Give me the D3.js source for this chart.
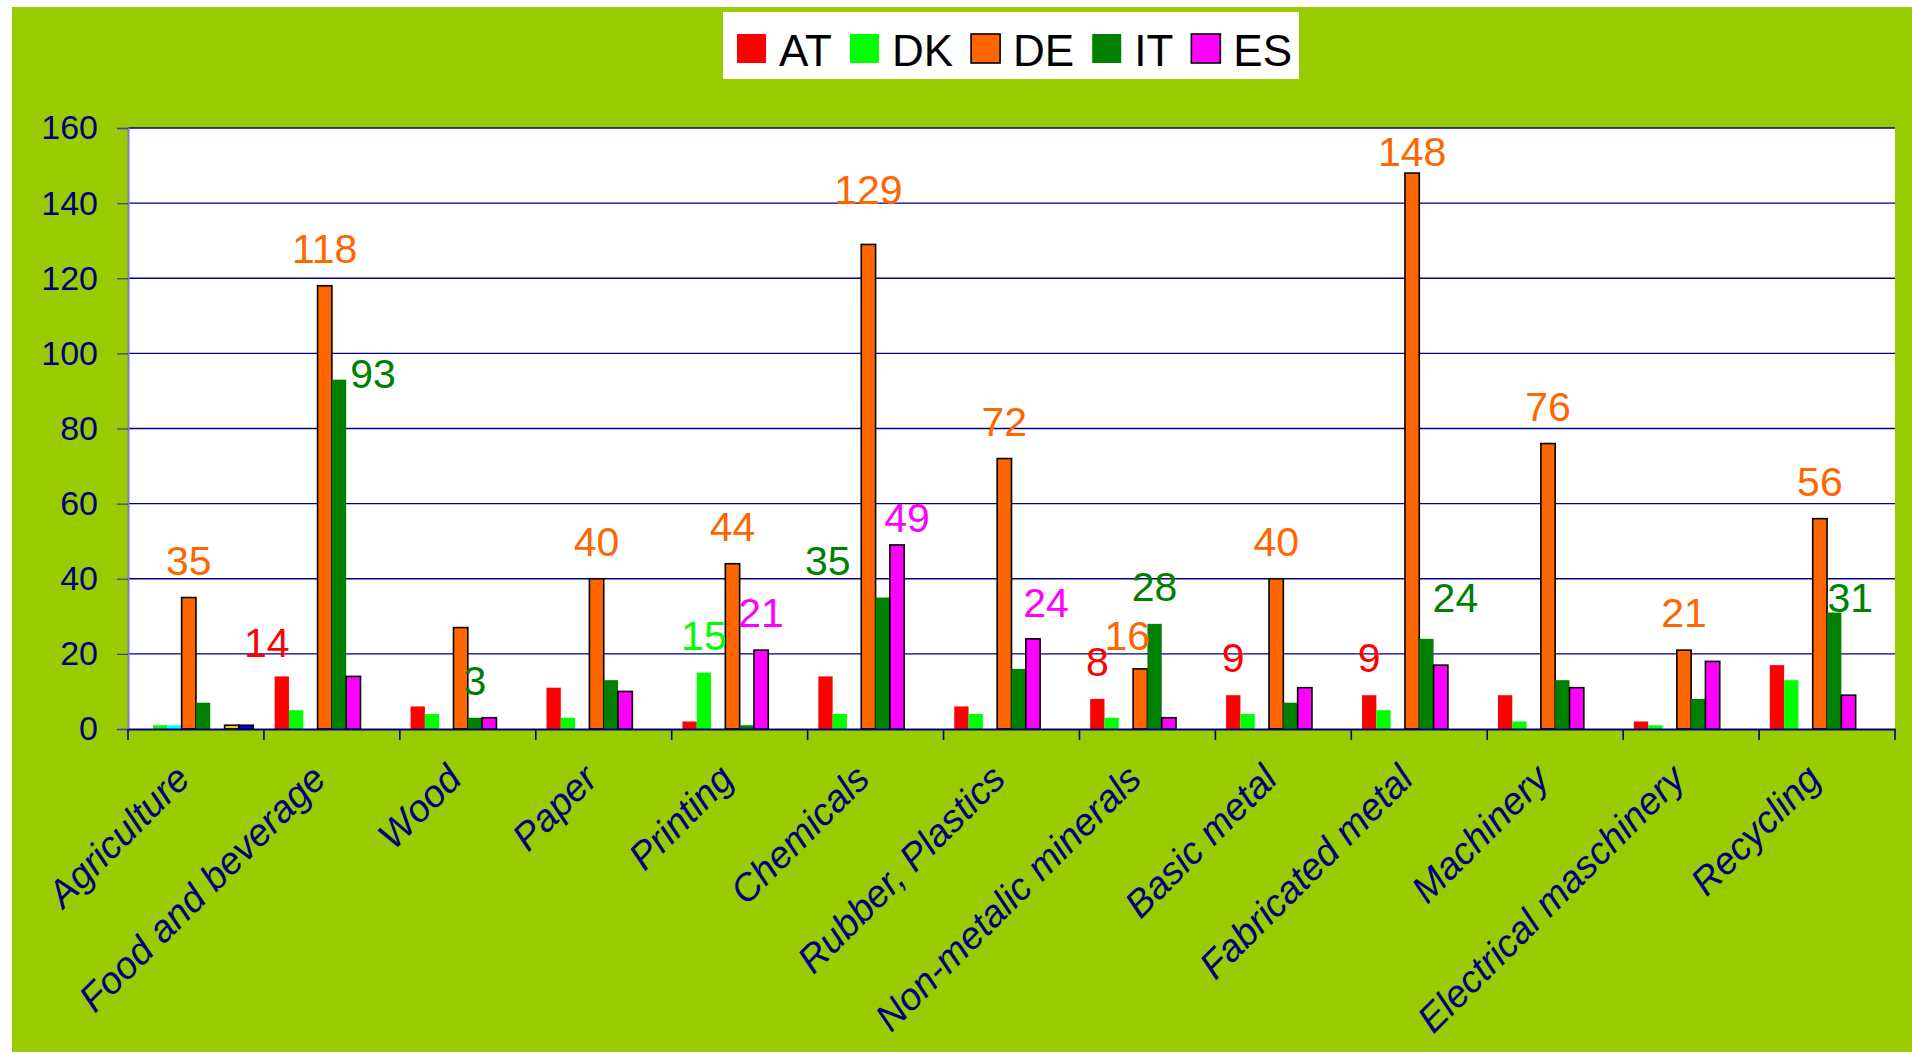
<!DOCTYPE html>
<html>
<head>
<meta charset="utf-8">
<script src="https://cdn.jsdelivr.net/npm/d3@7"></script>
<style>
  html, body { margin: 0; padding: 0; background: #fff; }
  svg { display: block; font-family: "Liberation Sans", Arial, sans-serif; }
</style>
</head>
<body>
<div id="viz"></div>
<script>
// ── DATA ────────────────────────────────────────────────────────────────────
const categories = ["Agriculture", "Food and beverage", "Wood", "Paper", "Printing",
  "Chemicals", "Rubber, Plastics", "Non-metalic minerals", "Basic metal",
  "Fabricated metal", "Machinery", "Electrical maschinery", "Recycling"];

// eight series in the workbook, only five of them shown in the legend
const seriesNames = ["AT", "DK", "S3", "DE", "IT", "ES", "S7", "S8"];
const legendNames = ["AT", "DK", "DE", "IT", "ES"];

const AT = [0, 14, 6, 11, 2, 14, 6, 8, 9, 9, 9, 2, 17];
const DK = [1, 5, 4, 3, 15, 4, 4, 3, 4, 5, 2, 1, 13];
const S3 = [1, 0, 0, 0, 0, 0, 0, 0, 0, 0, 0, 0, 0];
const DE = [35, 118, 27, 40, 44, 129, 72, 16, 40, 148, 76, 21, 56];
const IT = [7, 93, 3, 13, 1, 35, 16, 28, 7, 24, 13, 8, 31];
const ES = [0, 14, 3, 10, 21, 49, 24, 3, 11, 17, 11, 18, 9];
const S7 = [1, 0, 0, 0, 0, 0, 0, 0, 0, 0, 0, 0, 0];
const S8 = [1, 0, 0, 0, 0, 0, 0, 0, 0, 0, 0, 0, 0];
const seriesValues = { AT, DK, S3, DE, IT, ES, S7, S8 };

const yTicks = [0, 20, 40, 60, 80, 100, 120, 140, 160];

// which bars carry a value label
const labeled = [
  ["Agriculture", "DE"], ["Food and beverage", "AT"], ["Food and beverage", "DE"],
  ["Food and beverage", "IT"], ["Wood", "IT"], ["Paper", "DE"], ["Printing", "DK"],
  ["Printing", "DE"], ["Printing", "ES"], ["Chemicals", "IT"], ["Chemicals", "DE"],
  ["Chemicals", "ES"], ["Rubber, Plastics", "DE"], ["Rubber, Plastics", "ES"],
  ["Non-metalic minerals", "AT"], ["Non-metalic minerals", "DE"], ["Non-metalic minerals", "IT"],
  ["Basic metal", "AT"], ["Basic metal", "DE"], ["Fabricated metal", "AT"],
  ["Fabricated metal", "DE"], ["Fabricated metal", "IT"], ["Machinery", "DE"],
  ["Electrical maschinery", "DE"], ["Recycling", "DE"], ["Recycling", "IT"]
];

// ── STYLES ──────────────────────────────────────────────────────────────────
const fill = { AT: "#ff0000", DK: "#00ff00", S3: "#00ffff", DE: "#ff6600",
  IT: "#008000", ES: "#ff00ff", S7: "#ffcc00", S8: "#0000ff" };
const outlined = new Set(["DE", "ES", "S7", "S8"]);
// labels that were dragged away from the default spot: [dx, gap above bar top]
const nudge = {
  "Food and beverage|AT": [-15, 19], "Food and beverage|IT": [34, -8],
  "Chemicals|IT": [-55, 23], "Chemicals|DE": [0, 40], "Chemicals|ES": [10, 13],
  "Rubber, Plastics|ES": [13, 22], "Non-metalic minerals|DE": [-13, 19],
  "Fabricated metal|DE": [0, 7], "Fabricated metal|IT": [29, 27],
  "Recycling|IT": [16, 1]
};

// ── SETTINGS ────────────────────────────────────────────────────────────────
const width = 1912, height = 1053;
const plot = { left: 128, top: 128, right: 1895, bottom: 729 };
const navy = "#000080";

const svg = d3.select("#viz").append("svg")
    .attr("width", width)
    .attr("height", height);

svg.append("rect")
    .attr("x", 12).attr("y", 7)
    .attr("width", width - 12).attr("height", height - 8)
    .attr("fill", "#99cc00");

svg.append("rect")
    .attr("x", plot.left).attr("y", plot.top)
    .attr("width", plot.right - plot.left).attr("height", plot.bottom - plot.top)
    .attr("fill", "#fff");

const x0 = d3.scaleBand().domain(categories).range([plot.left, plot.right]);
const x1 = d3.scaleBand().domain(seriesNames).range([0, x0.bandwidth()])
    .paddingInner(0).paddingOuter(0.75);
const y = d3.scaleLinear().domain([0, 160]).range([plot.bottom, plot.top]);

// gridlines
svg.append("g")
  .selectAll("line")
  .data(yTicks.slice(1))
  .join("line")
    .attr("x1", plot.left).attr("x2", plot.right)
    .attr("y1", d => y(d)).attr("y2", d => y(d))
    .attr("stroke", navy)
    .attr("stroke-width", 1.3);

// y axis
const yAxis = svg.append("g")
    .attr("transform", `translate(${plot.left},0)`)
    .call(d3.axisLeft(y).tickValues(yTicks).tickSize(11).tickPadding(19));
yAxis.select(".domain").attr("stroke", "#7f7fbf").attr("stroke-width", 2);
yAxis.selectAll(".tick line").attr("stroke", "#444488").attr("stroke-width", 1.3);
yAxis.selectAll("text")
    .attr("fill", navy)
    .attr("font-size", 34)
    .attr("font-family", "Liberation Sans, Arial, sans-serif");

// bars
const bars = [];
categories.forEach((c, i) => {
  seriesNames.forEach(s => {
    const v = seriesValues[s][i];
    if (v > 0) bars.push({ c, s, v });
  });
});

svg.append("g")
  .selectAll("rect")
  .data(bars)
  .join("rect")
    .attr("x", d => x0(d.c) + x1(d.s))
    .attr("y", d => y(d.v))
    .attr("width", x1.bandwidth())
    .attr("height", d => y(0) - y(d.v))
    .attr("fill", d => fill[d.s])
    .attr("stroke", d => outlined.has(d.s) ? "#000" : "none")
    .attr("stroke-width", 1.6);

// x axis
const xAxis = svg.append("g")
    .attr("transform", `translate(0,${plot.bottom})`)
    .call(d3.axisBottom(x0).tickSize(0).tickFormat(""));
xAxis.select(".domain").attr("stroke", navy).attr("stroke-width", 2.2);

const bounds = d3.range(categories.length + 1).map(i => plot.left + i * x0.step());
svg.append("g")
  .selectAll("line")
  .data(bounds)
  .join("line")
    .attr("x1", d => d).attr("x2", d => d)
    .attr("y1", plot.bottom).attr("y2", plot.bottom + 11)
    .attr("stroke", navy)
    .attr("stroke-width", 1.6);

svg.append("g")
  .selectAll("text")
  .data(categories)
  .join("text")
    .attr("transform", d => `translate(${x0(d) + x0.bandwidth() / 2 - 4},${plot.bottom + 52}) rotate(-45)`)
    .attr("text-anchor", "end")
    .attr("font-size", 38)
    .attr("font-style", "italic")
    .attr("fill", navy)
    .text(d => d);

// value labels
svg.append("g")
  .selectAll("text")
  .data(labeled)
  .join("text")
    .attr("x", ([c, s]) => {
      const n = nudge[c + "|" + s] || [0, 23];
      return x0(c) + x1(s) + x1.bandwidth() / 2 + n[0];
    })
    .attr("y", ([c, s]) => {
      const n = nudge[c + "|" + s] || [0, 23];
      return y(seriesValues[s][categories.indexOf(c)]) - n[1];
    })
    .attr("text-anchor", "middle")
    .attr("font-size", 41)
    .attr("fill", ([c, s]) => fill[s])
    .text(([c, s]) => seriesValues[s][categories.indexOf(c)]);

// legend
const legend = svg.append("g");
legend.append("rect")
    .attr("x", 723).attr("y", 12)
    .attr("width", 576).attr("height", 67)
    .attr("fill", "#fff");

let lx = 737;
legendNames.forEach(s => {
  legend.append("rect")
      .attr("x", lx).attr("y", 34)
      .attr("width", 29).attr("height", 29)
      .attr("fill", fill[s])
      .attr("stroke", outlined.has(s) ? "#000" : "none")
      .attr("stroke-width", 1.6);
  const t = legend.append("text")
      .attr("x", lx + 42).attr("y", 66)
      .attr("font-size", 44)
      .attr("fill", "#000")
      .text(s);
  lx += 42 + t.node().getComputedTextLength() + 18;
});
</script>
</body>
</html>
